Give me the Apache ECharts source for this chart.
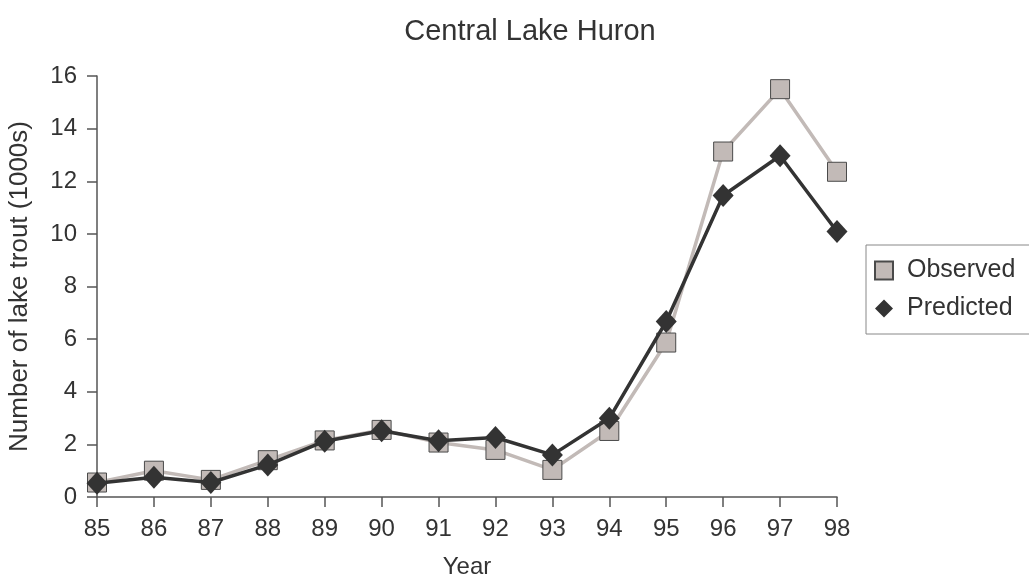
<!DOCTYPE html>
<html>
<head>
<meta charset="utf-8">
<script src="https://cdn.jsdelivr.net/npm/echarts@6/dist/echarts.min.js"></script>
<style>html,body{margin:0;padding:0;background:#fff}#c{width:1029px;height:580px}</style>
</head>
<body>
<div id="c"></div>
<script>
var years = ['85','86','87','88','89','90','91','92','93','94','95','96','97','98'];
var observed = [0.55, 1.0, 0.65, 1.4, 2.15, 2.55, 2.07, 1.79, 1.03, 2.51, 5.87, 13.13, 15.5, 12.36];
var predicted = [0.52, 0.75, 0.55, 1.22, 2.12, 2.52, 2.14, 2.26, 1.6, 2.99, 6.67, 11.46, 12.97, 10.09];
var yTicks = [0, 2, 4, 6, 8, 10, 12, 14, 16];

var FONT = 'Liberation Sans, Arial, sans-serif';
var TXT = '#333333';
var chart = echarts.init(document.getElementById('c'), null, {renderer: 'canvas'});
chart.setOption({
  animation: false,
  backgroundColor: '#ffffff',
  title: {
    text: 'Central Lake Huron',
    left: 525, top: 12, textAlign: 'center',
    textStyle: {fontFamily: FONT, fontSize: 29, fontWeight: 'normal', color: TXT}
  },
  legend: {
    orient: 'vertical',
    left: 866, top: 245,
    padding: [13, 30, 13, 8],
    itemWidth: 18, itemHeight: 18, itemGap: 13,
    borderColor: '#888888', borderWidth: 1,
    textStyle: {fontFamily: FONT, fontSize: 25, color: TXT, padding: [0, 0, 0, 9]},
    data: [{name: 'Observed', icon: 'rect'}, {name: 'Predicted', icon: 'diamond'}]
  },
  grid: {left: 97, right: 192, top: 76, bottom: 83, containLabel: false, outerBoundsMode: 'none'},
  xAxis: {
    type: 'category', data: years, boundaryGap: false,
    name: 'Year', nameLocation: 'middle', nameGap: 58,
    nameTextStyle: {fontFamily: FONT, fontSize: 24, color: TXT},
    axisLine: {lineStyle: {color: '#555555', width: 1.5}},
    axisTick: {alignWithLabel: true, length: 10, lineStyle: {color: '#555555', width: 1.5}},
    axisLabel: {fontFamily: FONT, fontSize: 24, color: TXT, margin: 20},
    splitLine: {show: false}
  },
  yAxis: {
    type: 'value', min: yTicks[0], max: yTicks[yTicks.length - 1], interval: 2,
    name: 'Number of lake trout (1000s)', nameLocation: 'middle', nameGap: 64,
    nameTextStyle: {fontFamily: FONT, fontSize: 26, color: TXT},
    axisLine: {show: true, lineStyle: {color: '#555555', width: 1.5}},
    axisTick: {show: true, length: 10, lineStyle: {color: '#555555', width: 1.5}},
    axisLabel: {fontFamily: FONT, fontSize: 24, color: TXT, margin: 20},
    splitLine: {show: false}
  },
  series: [
    {
      name: 'Observed', type: 'line', data: observed,
      symbol: 'rect', symbolSize: 19, z: 2,
      lineStyle: {color: '#c2bab7', width: 3.5},
      itemStyle: {color: '#c2bab7', borderColor: '#4a4a4a', borderWidth: 1}
    },
    {
      name: 'Predicted', type: 'line', data: predicted,
      symbol: 'diamond', symbolSize: [21, 23], z: 3,
      lineStyle: {color: '#333333', width: 3.5},
      itemStyle: {color: '#333333'}
    }
  ]
});
</script>
</body>
</html>
